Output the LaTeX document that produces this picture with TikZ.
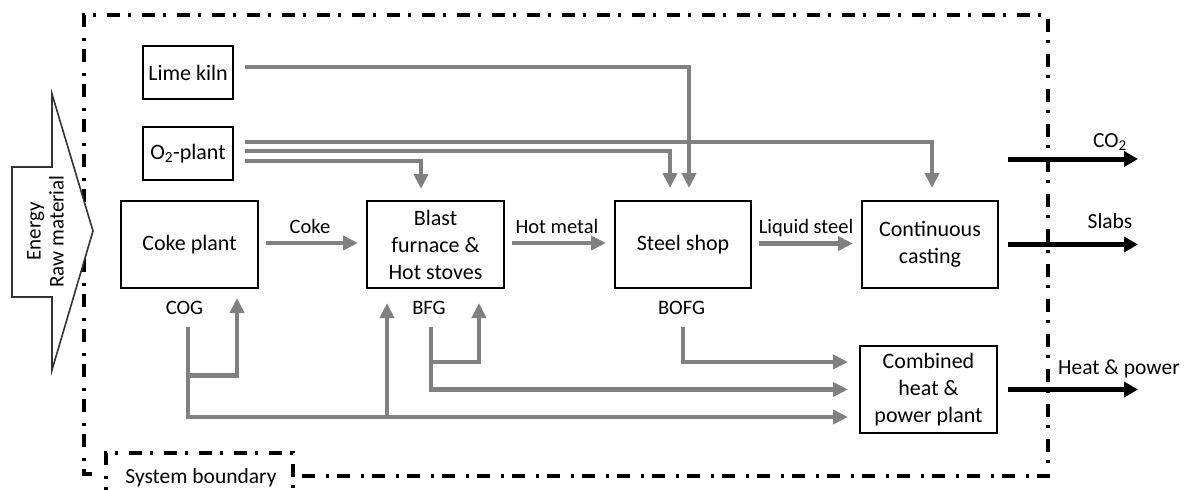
\documentclass[tikz,border=0pt]{standalone}
\usepackage{fontspec}
\setmainfont{Carlito}
\usetikzlibrary{arrows.meta}
\definecolor{flowgray}{RGB}{128,128,128}

\tikzset{
  unit/.style={draw, line width=1.5pt, inner sep=0pt, outer sep=0pt, align=center,
    font=\fontsize{22}{27}\selectfont},
  flow/.style={draw=flowgray, line width=4.5pt, -{Triangle[length=15pt,width=14pt]}},
  outflow/.style={draw=black, line width=5pt, -{Triangle[length=14pt,width=15pt]}},
  flowlabel/.style={inner sep=0pt, anchor=base, font=\fontsize{20.5}{24}\selectfont},
  outlabel/.style={inner sep=0pt, anchor=base, font=\fontsize{21.5}{25}\selectfont},
  boundary/.style={line width=3.5pt, dash pattern=on 13pt off 8pt on 3pt off 11pt},
}

\begin{document}
\begin{tikzpicture}[x=1pt,y=-1pt]
\useasboundingbox (0,0) rectangle (1189,490);
% system boundary
\draw[boundary] (92,474) -- (84,474) -- (84,15) -- (1048,15) -- (1048,476) -- (296,476);
\draw[boundary] (106,500) -- (106,453) -- (293,453) -- (293,500);
\node[outlabel] (sysb) at (201,483) {System boundary};
% input arrow
\draw[line width=1.6pt, draw=black!80, fill=white] (12,167) -- (52,167) -- (52,94) -- (93,231)
  -- (52,370) -- (52,297) -- (12,297) -- cycle;
\node[rotate=90, align=center, inner sep=0pt, font=\fontsize{21}{23}\selectfont] (input) at (45.5,231.5) {Energy\\Raw material};

% units
\node[unit, minimum width=90pt, minimum height=53pt] (lime) at (188,72.5) {Lime kiln};
\node[unit, minimum width=90pt, minimum height=53pt] (otwo) at (188,153.5) {O\textsubscript{2}-plant};
\node[unit, minimum width=137pt, minimum height=87pt] (coke) at (189.5,244.5) {Coke plant};
\node[unit, minimum width=137pt, minimum height=87pt] (blast) at (435.5,244.5) {Blast\\furnace \&\\Hot stoves};
\node[unit, minimum width=136pt, minimum height=87pt] (steel) at (683,244.5) {Steel shop};
\node[unit, minimum width=136pt, minimum height=87pt] (cast) at (930,244.5) {Continuous\\casting};
\node[unit, minimum width=137pt, minimum height=87pt] (chp) at (928.5,389.5) {Combined\\heat \&\\power plant};

% labels
\node[flowlabel] (cokelbl) at (310,233) {Coke};
\node[flowlabel] (hotlbl) at (557,233) {Hot metal};
\node[flowlabel] (liqlbl) at (806,233) {Liquid steel};
\node[flowlabel] (cog) at (184.5,314) {COG};
\node[flowlabel] (bfg) at (429,314) {BFG};
\node[flowlabel] (bofg) at (681.5,314) {BOFG};
\node[outlabel] (co2) at (1110,147) {CO\textsubscript{2}};
\node[outlabel] (slabs) at (1110,228) {Slabs};
\node[outlabel] (heat) at (1119,374) {Heat \& power};

\coordinate (cogtop) at ([xshift=3.5pt,yshift=-13pt]cog.south);
\coordinate (bfgtop) at ([xshift=2pt,yshift=-13pt]bfg.south);
\coordinate (bofgtop) at ([xshift=1.5pt,yshift=-13pt]bofg.south);
\coordinate (chpa) at ([xshift=-12pt,yshift=27.5pt]chp.west);
\coordinate (chpb) at ([xshift=-12pt]chp.west);
\coordinate (chpc) at ([xshift=-12pt,yshift=-27.5pt]chp.west);
\coordinate (bfgret) at ([xshift=-48.5pt,yshift=-15pt]blast.south);
\coordinate (co2a) at (1008,159);
\coordinate (co2b) at (1138,159);

% main route
\draw[flow] ([xshift=8pt,yshift=1.5pt]coke.east) -- ([xshift=-9pt,yshift=1.5pt]blast.west);
\draw[flow] ([xshift=8pt,yshift=1.5pt]blast.east) -- ([xshift=-9pt,yshift=1.5pt]steel.west);
\draw[flow] ([xshift=8pt,yshift=1pt]steel.east) -- ([xshift=-9pt,yshift=1pt]cast.west);

% supplies
\draw[flow] ([xshift=12pt,yshift=5.5pt]lime.east) -| ([xshift=6pt,yshift=13pt]steel.north);
\draw[flow] ([xshift=12pt,yshift=11.5pt]otwo.east) -| ([xshift=2pt,yshift=13pt]cast.north);
\draw[flow] ([xshift=12pt,yshift=2.5pt]otwo.east) -| ([xshift=-13pt,yshift=13pt]steel.north);
\draw[flow] ([xshift=12pt,yshift=-7.5pt]otwo.east) -| ([xshift=-14.5pt,yshift=12pt]blast.north);

% gases
\draw[flow] (bofgtop) |- (chpa);
\draw[flow] (bfgtop) |- (chpb);
\draw[flow] (cogtop) |- (chpc);
\draw[flow] (bfgtop |- chpa) -| ([xshift=43.5pt,yshift=-15pt]blast.south);
\draw[flow] ([yshift=-48pt]cogtop) -| ([xshift=47.5pt,yshift=-10pt]coke.south);
\draw[flow] (bfgret |- chpc) -- (bfgret);

% outputs
\draw[outflow] (co2a) -- (co2b);
\draw[outflow] (co2a |- cast.east) -- (co2b |- cast.east);
\draw[outflow] (co2a |- chp.east) -- (co2b |- chp.east);
\end{tikzpicture}
\end{document}
